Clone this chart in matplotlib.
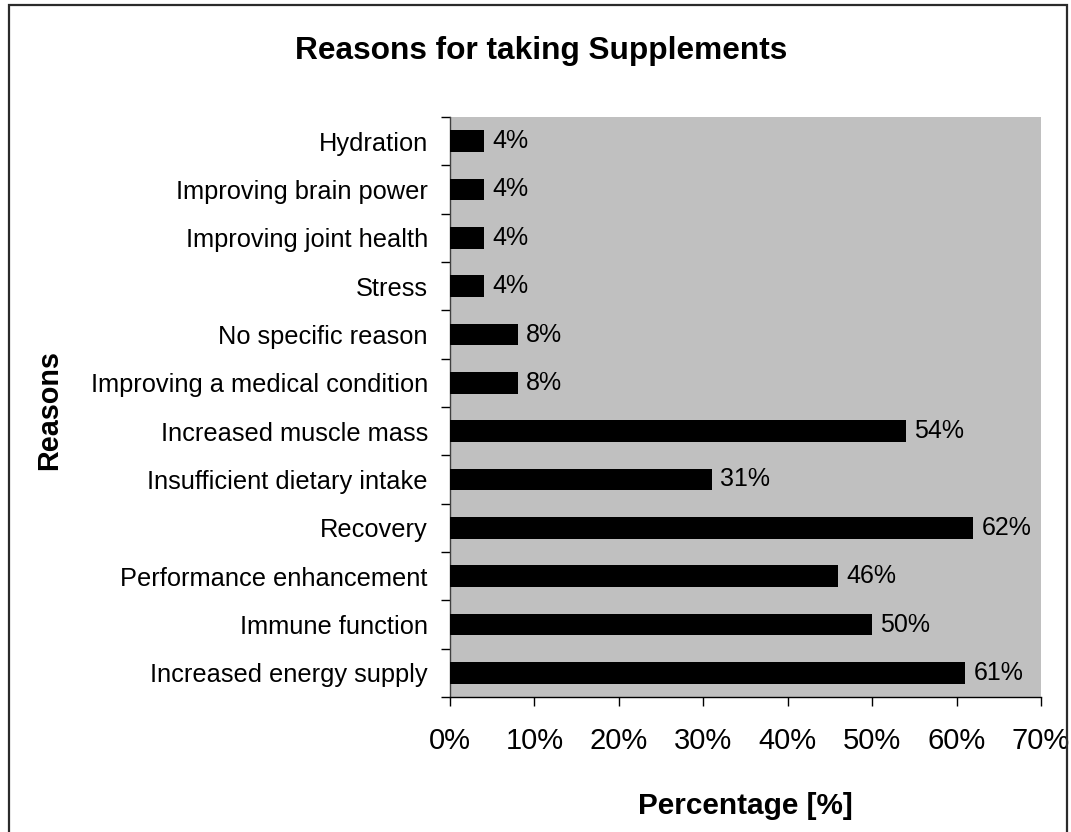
import matplotlib
matplotlib.use("Agg")
import matplotlib.pyplot as plt
from matplotlib.patches import Rectangle
import numpy as np

plt.rcParams['font.family'] = ['Liberation Sans', 'DejaVu Sans']

# Reasons, listed bottom to top as they appear on the axis
reasons = [
    "Increased energy supply",
    "Immune function",
    "Performance enhancement",
    "Recovery",
    "Insufficient dietary intake",
    "Increased muscle mass",
    "Improving a medical condition",
    "No specific reason",
    "Stress",
    "Improving joint health",
    "Improving brain power",
    "Hydration",
]
percentages = [61, 50, 46, 62, 31, 54, 8, 8, 4, 4, 4, 4]
x_ticks = [0, 10, 20, 30, 40, 50, 60, 70]
x_tick_labels = [f"{t}%" for t in x_ticks]

W, H = 1071, 832
fig = plt.figure(figsize=(W / 100, H / 100), dpi=100)
fig.patch.set_facecolor("white")

# outer chart frame (runs off the bottom edge)
fx0, fx1, fy0 = 8.5, 1067, 5.5
fig.patches.append(Rectangle((fx0 / W, -0.05), (fx1 - fx0) / W, 1.05 - fy0 / H,
                             transform=fig.transFigure, fill=False,
                             edgecolor="#2b2b2b", linewidth=1.6, zorder=0))

left, right, top, bottom = 450, 1041, 117, 697
ax = fig.add_axes([left / W, 1 - bottom / H, (right - left) / W, (bottom - top) / H])
ax.set_facecolor("#C0C0C0")

y = np.arange(len(reasons))
ax.barh(y, percentages, height=0.455, color="black", zorder=3)

for yi, v in zip(y, percentages):
    ax.annotate(f"{v}%", xy=(v, yi), xytext=(6, 0), textcoords="offset points",
                va="center", ha="left", fontsize=18, color="black")

ax.set_xlim(0, 70)
ax.set_ylim(-0.5, len(reasons) - 0.5)

ax.set_xticks(x_ticks)
ax.set_xticklabels(x_tick_labels, fontsize=21)
ax.tick_params(axis="x", length=6.5, width=1, direction="out", pad=15, colors="black")

# tick marks between categories, labels centred on each category
ax.set_yticks(np.arange(-0.5, len(reasons), 1.0))
ax.set_yticklabels([])
ax.set_yticks(y, minor=True)
ax.set_yticklabels(reasons, minor=True, fontsize=18.3)
ax.tick_params(axis="y", which="major", length=6.5, width=1, direction="out")
ax.tick_params(axis="y", which="minor", length=0, pad=16)

for s in ("top", "right"):
    ax.spines[s].set_visible(False)
ax.spines["left"].set_color("#404040")
ax.spines["bottom"].set_color("black")
ax.spines["left"].set_linewidth(1.0)
ax.spines["bottom"].set_linewidth(1.0)

fig.text(541 / W, 1 - 51 / H, "Reasons for taking Supplements", ha="center", va="center",
         fontsize=22.8, fontweight="bold")
fig.text(745.5 / W, 1 - 806 / H, "Percentage [%]", ha="center", va="center",
         fontsize=21.4, fontweight="bold")
fig.text(49 / W, 1 - 410 / H, "Reasons", ha="center", va="center", rotation=90,
         fontsize=20.7, fontweight="bold")

fig.savefig("out.png", dpi=100, facecolor="white")
